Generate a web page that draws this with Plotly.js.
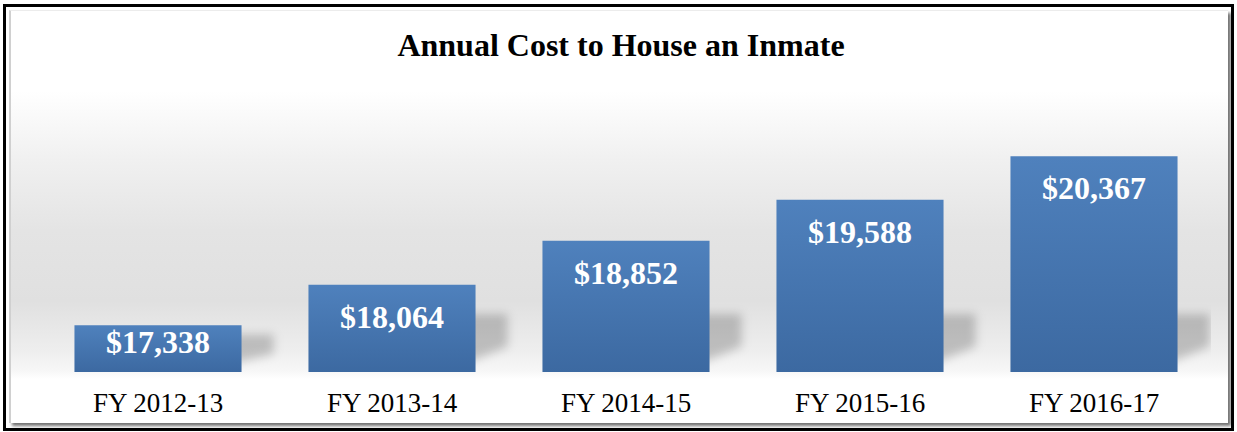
<!DOCTYPE html>
<html><head><meta charset="utf-8">
<script src="https://cdn.plot.ly/plotly-3.0.1.min.js"></script>
<style>
html,body{margin:0;padding:0;width:1237px;height:432px;overflow:hidden;background:#fff;}
#outer{position:absolute;left:3px;top:4px;width:1231px;height:427px;border:3px solid #000;box-sizing:border-box;}
#inner{position:absolute;left:9px;top:10px;width:1219px;height:413px;box-sizing:border-box;border-left:2px solid #d0d0d0;border-top:1px solid #ececec;box-shadow:3px 3px 3px rgba(0,0,0,0.55);
background:linear-gradient(to bottom,#ffffff 0px,#ffffff 80px,#f0f0f0 150px,#e4e4e4 220px,#e0e0e0 290px,#eeeeee 340px,#f7f7f7 360px,#ffffff 368px,#ffffff 413px);}
#chart{position:absolute;left:0;top:0;width:1237px;height:432px;}
#chart g.point path{fill:url(#barGrad) !important;}
#chart .shapelayer path{filter:blur(5px);}
</style>
</head><body>
<svg width="1" height="1" style="position:absolute;left:0;top:0">
  <defs>
    <linearGradient id="barGrad" x1="0" y1="0" x2="0" y2="1" gradientUnits="objectBoundingBox">
      <stop offset="0" stop-color="#4F81BD"/>
      <stop offset="1" stop-color="#3C69A1"/>
    </linearGradient>
  </defs>
</svg>
<div id="outer"></div>
<div id="inner"></div>
<div id="chart"></div>
<script>
const categories = ["FY 2012-13", "FY 2013-14", "FY 2014-15", "FY 2015-16", "FY 2016-17"];
const costs = [17338, 18064, 18852, 19588, 20367];
const chartTitle = "Annual Cost to House an Inmate";

const W = 1237, H = 432;
const margin = {l: 41, r: 26, t: 93, b: 60, pad: 0};
const yMin = 16500, yMax = 21500;
const barWidthFrac = 0.714;
const plotH = H - margin.t - margin.b;
const plotW = W - margin.l - margin.r;
const unitsPerPxY = (yMax - yMin) / plotH;
const unitsPerPxX = categories.length / plotW;
const serif = "Liberation Serif, Times New Roman, serif";

const fmt = v => "$" + v.toLocaleString("en-US");

const annotations = costs.map((v, i) => {
  const hPx = (v - yMin) / unitsPerPxY;
  return {
    x: categories[i], y: v, xref: "x", yref: "y",
    text: "<b>" + fmt(v) + "</b>", showarrow: false,
    yanchor: "top", yshift: hPx > 60 ? -12 : 3,
    font: {family: serif, size: 32, color: "#ffffff"}
  };
});

const shapes = costs.map((v, i) => {
  const hPx = (v - yMin) / unitsPerPxY;
  const R = i + barWidthFrac / 2;
  const x0 = R - 12 * unitsPerPxX, x1 = R + 32 * unitsPerPxX;
  const yT = yMin + Math.min(58, hPx * 0.8) * unitsPerPxY;
  const yB = yMin + 8 * unitsPerPxY;
  const yMid = yB + (yT - yB) * 0.35;
  return {
    type: "path", xref: "x", yref: "y", layer: "below",
    path: `M ${x0},${yB} L ${x0},${yT} L ${x1},${yT} L ${x1},${yMid} Z`,
    fillcolor: "rgba(0,0,0,0.2)", line: {width: 0}
  };
});

const data = [{
  type: "bar", x: categories, y: costs.map(v => v - yMin), base: yMin,
  marker: {color: "#4877B2", line: {width: 0}},
  hoverinfo: "none"
}];

const layout = {
  width: W, height: H, margin: margin,
  paper_bgcolor: "rgba(0,0,0,0)", plot_bgcolor: "rgba(0,0,0,0)",
  bargap: 1 - barWidthFrac,
  showlegend: false,
  title: {text: "<b>" + chartTitle + "</b>", font: {family: serif, size: 32, color: "#000"},
          xref: "container", x: 621 / W, xanchor: "center",
          yref: "container", y: 1 - 45 / H, yanchor: "middle"},
  xaxis: {type: "category", showgrid: false, zeroline: false, showline: false, ticks: "",
          tickfont: {family: serif, size: 27, color: "#000"}, ticklabelstandoff: 12, fixedrange: true},
  yaxis: {range: [yMin, yMax], visible: false, showgrid: false, zeroline: false, fixedrange: true},
  annotations: annotations,
  shapes: shapes
};

Plotly.newPlot("chart", data, layout, {displayModeBar: false, staticPlot: true});
</script>
</body></html>
